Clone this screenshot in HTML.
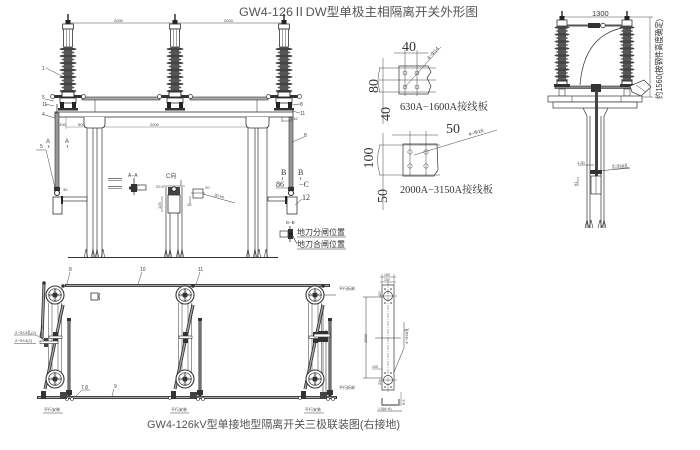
<!DOCTYPE html>
<html><head><meta charset="utf-8"><title>GW4-126</title>
<style>
html,body{margin:0;padding:0;background:#fff;width:700px;height:450px;overflow:hidden}
svg{display:block}
text{font-family:"Liberation Sans","Noto Sans CJK SC",sans-serif;fill:#333}
.s{font-family:"Liberation Serif","Noto Serif CJK SC",serif}
.t{font-size:4px;fill:#444}
</style></head><body>
<svg width="700" height="450" viewBox="0 0 700 450" xmlns="http://www.w3.org/2000/svg">
<defs>
<g id="ins">
<line x1="0" y1="0" x2="0" y2="7" stroke="#222" stroke-width="1.4"/>
<rect x="-2.5" y="6" width="5" height="4" fill="#222"/>
<rect x="-5.5" y="10" width="11" height="5" fill="#fff" stroke="#333" stroke-width="0.8"/>
<rect x="-4.5" y="15" width="9" height="18" fill="#fff" stroke="#333" stroke-width="0.8"/>
<line x1="-1.5" y1="15" x2="-1.5" y2="33" stroke="#666" stroke-width="0.6"/>
<line x1="1.5" y1="15" x2="1.5" y2="33" stroke="#666" stroke-width="0.6"/>
<rect x="-4" y="33" width="8" height="46" fill="#5a5a5a"/>
<ellipse cx="0" cy="35" rx="8.5" ry="1.5" fill="#444"/>
<ellipse cx="0" cy="38.5" rx="6.5" ry="1.4" fill="#555"/>
<ellipse cx="0" cy="42" rx="8.5" ry="1.5" fill="#444"/>
<ellipse cx="0" cy="45.5" rx="6.5" ry="1.4" fill="#555"/>
<ellipse cx="0" cy="49" rx="8.5" ry="1.5" fill="#444"/>
<ellipse cx="0" cy="52.5" rx="6.5" ry="1.4" fill="#555"/>
<ellipse cx="0" cy="56" rx="8.5" ry="1.5" fill="#444"/>
<ellipse cx="0" cy="59.5" rx="6.5" ry="1.4" fill="#555"/>
<ellipse cx="0" cy="63" rx="8.5" ry="1.5" fill="#444"/>
<ellipse cx="0" cy="66.5" rx="6.5" ry="1.4" fill="#555"/>
<ellipse cx="0" cy="70" rx="8.5" ry="1.5" fill="#444"/>
<ellipse cx="0" cy="73.5" rx="6.5" ry="1.4" fill="#555"/>
<ellipse cx="0" cy="77" rx="8.5" ry="1.5" fill="#444"/>
<rect x="-6" y="78" width="12" height="5" fill="#fff" stroke="#222" stroke-width="0.9"/>
</g>
<g id="ins2">
<line x1="0" y1="0" x2="0" y2="6" stroke="#222" stroke-width="1.4"/>
<rect x="-2.5" y="5" width="5" height="4" fill="#222"/>
<rect x="-5" y="9" width="10" height="6" fill="#fff" stroke="#333" stroke-width="0.8"/>
<rect x="-4" y="15" width="8" height="55" fill="#5a5a5a"/>
<ellipse cx="0" cy="16.5" rx="7.5" ry="1.4" fill="#444"/>
<ellipse cx="0" cy="20" rx="6" ry="1.3" fill="#555"/>
<ellipse cx="0" cy="23.5" rx="7.5" ry="1.4" fill="#444"/>
<ellipse cx="0" cy="27" rx="6" ry="1.3" fill="#555"/>
<ellipse cx="0" cy="30.5" rx="7.5" ry="1.4" fill="#444"/>
<ellipse cx="0" cy="34" rx="6" ry="1.3" fill="#555"/>
<ellipse cx="0" cy="37.5" rx="7.5" ry="1.4" fill="#444"/>
<ellipse cx="0" cy="41" rx="6" ry="1.3" fill="#555"/>
<ellipse cx="0" cy="44.5" rx="7.5" ry="1.4" fill="#444"/>
<ellipse cx="0" cy="48" rx="6" ry="1.3" fill="#555"/>
<ellipse cx="0" cy="51.5" rx="7.5" ry="1.4" fill="#444"/>
<ellipse cx="0" cy="55" rx="6" ry="1.3" fill="#555"/>
<ellipse cx="0" cy="58.5" rx="7.5" ry="1.4" fill="#444"/>
<ellipse cx="0" cy="62" rx="6" ry="1.3" fill="#555"/>
<ellipse cx="0" cy="65.5" rx="7.5" ry="1.4" fill="#444"/>
<ellipse cx="0" cy="69" rx="6" ry="1.3" fill="#555"/>
<rect x="-5" y="70" width="10" height="5" fill="#fff" stroke="#222" stroke-width="0.9"/>
</g>
<g id="base">
<rect x="-14" y="95" width="28" height="3" fill="#333"/>
<circle cx="-15.5" cy="96.5" r="2" fill="#fff" stroke="#333" stroke-width="0.7"/>
<circle cx="15.5" cy="96.5" r="2" fill="#fff" stroke="#333" stroke-width="0.7"/>
<rect x="-8" y="98" width="16" height="5" fill="#fff" stroke="#333" stroke-width="0.8"/>
<rect x="-8" y="102" width="4" height="7" fill="#222"/>
<rect x="4" y="102" width="4" height="7" fill="#222"/>
<rect x="-10" y="108" width="20" height="2.5" fill="#333"/>
</g>
<g id="wh">
<circle r="9" fill="#fff" stroke="#333" stroke-width="1.1"/>
<circle r="6.3" fill="none" stroke="#333" stroke-width="0.7"/>
<circle r="2.8" fill="#333"/>
<circle cx="0" cy="-4.6" r="1" fill="none" stroke="#333" stroke-width="0.6"/>
<circle cx="4.6" cy="0" r="1" fill="none" stroke="#333" stroke-width="0.6"/>
<circle cx="0" cy="4.6" r="1" fill="none" stroke="#333" stroke-width="0.6"/>
<circle cx="-4.6" cy="0" r="1" fill="none" stroke="#333" stroke-width="0.6"/>
</g>
<g id="unit">
<g stroke="#555" stroke-width="0.6">
<line x1="-6.5" y1="303" x2="-6.5" y2="373"/>
<line x1="-3" y1="303" x2="-3" y2="373"/>
<line x1="3" y1="303" x2="3" y2="373"/>
<line x1="6.5" y1="303" x2="6.5" y2="373"/>
</g>
<line x1="8" y1="305" x2="-10" y2="389" stroke="#333" stroke-width="3"/>
<line x1="8" y1="305" x2="-10" y2="389" stroke="#aaa" stroke-width="1.3"/>
<rect x="-2" y="332" width="5" height="11" fill="#333"/>
<rect x="-6" y="336" width="13" height="2.5" fill="#fff" stroke="#333" stroke-width="0.6"/>
<use href="#wh" x="0" y="295"/>
<use href="#wh" x="0" y="379"/>
<line x1="8" y1="305" x2="5" y2="318" stroke="#333" stroke-width="3"/>
<line x1="8" y1="305" x2="5" y2="318" stroke="#aaa" stroke-width="1.3"/>
<rect x="-14" y="391" width="5" height="8" fill="#333"/>
<rect x="5" y="392" width="7" height="7" fill="#444"/>
<circle cx="8" cy="286" r="1.8" fill="#333"/>
</g>
<path id="ft" d="M-1.6,257 L0,249 L1.6,257" fill="none" stroke="#333" stroke-width="0.6"/>
</defs>

<!-- ============ TITLE ============ -->
<text x="239" y="16" font-size="12" textLength="239" lengthAdjust="spacingAndGlyphs" style="fill:#555">GW4-126ⅡDW型单极主相隔离开关外形图</text>

<!-- ============ TOP FRONT VIEW ============ -->
<line x1="68" y1="23" x2="284" y2="23" stroke="#444" stroke-width="0.6"/>
<text x="114" y="22" class="t">2000</text>
<text x="224" y="22" class="t">2000</text>

<rect x="82" y="97" width="78" height="3" fill="#aaa" stroke="#333" stroke-width="0.6"/>
<rect x="190" y="97" width="78" height="3" fill="#aaa" stroke="#333" stroke-width="0.6"/>
<line x1="95" y1="100" x2="95" y2="112" stroke="#444" stroke-width="0.6"/>
<line x1="257" y1="100" x2="257" y2="112" stroke="#444" stroke-width="0.6"/>

<use href="#base" x="68" y="0"/>
<use href="#base" x="175" y="0"/>
<use href="#base" x="284" y="0"/>
<use href="#ins" x="68" y="14"/>
<use href="#ins" x="175" y="14"/>
<use href="#ins" x="284" y="14"/>

<rect x="55" y="112" width="238" height="5" fill="#fff" stroke="#333" stroke-width="0.8"/>
<line x1="66" y1="127" x2="258" y2="127" stroke="#555" stroke-width="0.4"/>
<line x1="66" y1="117" x2="66" y2="129" stroke="#555" stroke-width="0.4"/>
<text x="57" y="126" class="t">2100</text>
<text x="78" y="126" class="t">500</text>
<text x="150" y="126" class="t">2000</text>

<g fill="#fff" stroke="#333" stroke-width="0.8">
<path d="M84,117 V124 Q84,128 88,128 H101 Q105,128 105,124 V117"/>
<path d="M246,117 V124 Q246,128 250,128 H265 Q269,128 269,124 V117"/>
</g>
<g stroke="#333" stroke-width="0.7">
<line x1="87" y1="128" x2="87" y2="257"/>
<line x1="93" y1="128" x2="93" y2="257"/>
<line x1="97" y1="128" x2="97" y2="257"/>
<line x1="102" y1="128" x2="102" y2="257"/>
<line x1="248" y1="128" x2="248" y2="257"/>
<line x1="255" y1="128" x2="255" y2="257"/>
<line x1="258" y1="128" x2="258" y2="257"/>
<line x1="267" y1="128" x2="267" y2="257"/>
<line x1="166" y1="187" x2="166" y2="257"/>
<line x1="170" y1="213" x2="170" y2="257"/>
<line x1="178" y1="213" x2="178" y2="257"/>
<line x1="182" y1="187" x2="182" y2="257"/>
</g>
<line x1="68" y1="257.5" x2="278" y2="257.5" stroke="#333" stroke-width="0.9"/>
<use href="#ft" x="86"/><use href="#ft" x="93"/><use href="#ft" x="97"/><use href="#ft" x="103"/>
<use href="#ft" x="166"/><use href="#ft" x="170"/><use href="#ft" x="178"/><use href="#ft" x="182"/>
<use href="#ft" x="248"/><use href="#ft" x="255"/><use href="#ft" x="259"/><use href="#ft" x="266"/>

<line x1="57" y1="104" x2="57" y2="113" stroke="#333" stroke-width="0.8"/>
<rect x="55" y="113" width="4" height="74" fill="#999" stroke="#333" stroke-width="0.6"/>
<rect x="54" y="187" width="6" height="4" fill="#333"/>
<circle cx="57" cy="193" r="2.5" fill="#fff" stroke="#222" stroke-width="1"/>
<rect x="53" y="197" width="9" height="17" fill="#fff" stroke="#333" stroke-width="0.8"/>
<rect x="62" y="197" width="25" height="4" fill="#fff" stroke="#333" stroke-width="0.7"/>
<rect x="61" y="196" width="2" height="8" fill="#222"/>
<text x="63" y="191" class="t">30</text>

<rect x="289" y="117" width="4" height="70" fill="#999" stroke="#333" stroke-width="0.6"/>
<rect x="288" y="187" width="6" height="4" fill="#333"/>
<circle cx="291" cy="193" r="2.5" fill="#fff" stroke="#222" stroke-width="1"/>
<rect x="287" y="197" width="10" height="17" fill="#fff" stroke="#333" stroke-width="0.8"/>
<rect x="268" y="197" width="19" height="4" fill="#fff" stroke="#333" stroke-width="0.7"/>
<rect x="285" y="196" width="2" height="8" fill="#222"/>
<line x1="282" y1="117" x2="282" y2="122" stroke="#444" stroke-width="0.5"/>
<line x1="282" y1="121" x2="292" y2="121" stroke="#444" stroke-width="0.5"/>
<text x="290" y="120" class="t">1.42</text>

<g stroke="#444" stroke-width="0.5" fill="none">
<line x1="46" y1="68" x2="62" y2="76"/>
<line x1="45" y1="115" x2="55" y2="118"/>
<line x1="36" y1="150" x2="46" y2="150"/>
<line x1="46" y1="150" x2="55" y2="188"/>
<line x1="45" y1="99" x2="54" y2="101"/>
<line x1="45" y1="104" x2="54" y2="106"/>
<line x1="292" y1="142" x2="304" y2="137"/>
<line x1="295" y1="205" x2="302" y2="199"/>
<line x1="292" y1="105" x2="300" y2="104"/>
<line x1="292" y1="111" x2="300" y2="113"/>
</g>
<text x="42" y="70" class="t" style="font-size:5px">1</text>
<text x="42" y="116" class="t" style="font-size:5px">4</text>
<text x="40" y="148" class="t" style="font-size:5px">5</text>
<text x="42" y="99" class="t" style="font-size:5px">5</text>
<text x="42" y="106" class="t" style="font-size:5px">11</text>
<text x="300" y="106" class="t" style="font-size:5px">8</text>
<text x="300" y="115" class="t" style="font-size:5px">11</text>
<text x="304" y="137" class="t" style="font-size:5px">8</text>
<text x="46" y="143" class="t" style="font-size:6px">A</text>
<text x="65" y="143" class="t" style="font-size:6px">A</text>
<path d="M48,145 L49,148 M67,145 L68,148" stroke="#444" stroke-width="0.6"/>

<text x="281" y="175" class="s" font-size="8">B</text>
<text x="298" y="175" class="s" font-size="8">B</text>
<path d="M283,177 L282,180 M300,177 L301,180" stroke="#444" stroke-width="0.6"/>
<text x="276" y="187" class="s" font-size="8">86</text>
<line x1="276" y1="188" x2="290" y2="188" stroke="#444" stroke-width="0.5"/>
<text x="299" y="187" class="s" font-size="8">−C</text>
<text x="302" y="200" class="s" font-size="8">12</text>

<rect x="108" y="178" width="14" height="1" fill="#777"/>
<line x1="108" y1="180.5" x2="122" y2="180.5" stroke="#333" stroke-width="0.5"/>
<rect x="108" y="186" width="14" height="1" fill="#777"/>
<line x1="108" y1="188.5" x2="122" y2="188.5" stroke="#333" stroke-width="0.5"/>
<text x="128" y="177" class="t" style="font-size:5px">A−A</text>
<line x1="134" y1="178" x2="134" y2="195" stroke="#333" stroke-width="0.8"/>
<rect x="131" y="184" width="6" height="8" fill="#333"/>
<rect x="137" y="185" width="9" height="5" fill="#fff" stroke="#333" stroke-width="0.7"/>
<circle cx="130.5" cy="188" r="1.6" fill="#333"/>

<text x="166" y="178" class="t" style="font-size:6px">C向</text>
<line x1="164" y1="186" x2="185" y2="186" stroke="#333" stroke-width="0.6"/>
<line x1="181" y1="186" x2="181" y2="180" stroke="#333" stroke-width="0.6"/>
<text x="156" y="188" class="t">20.5</text>
<rect x="168" y="187" width="12" height="8" fill="#444"/>
<circle cx="174" cy="189" r="2.2" fill="#fff" stroke="#222" stroke-width="0.8"/>
<rect x="168" y="195" width="12" height="18" fill="#fff" stroke="#333" stroke-width="0.8"/>
<line x1="162" y1="196" x2="162" y2="212" stroke="#444" stroke-width="0.5"/>
<text x="0" y="0" class="t" transform="translate(161,209) rotate(-90)">125</text>
<rect x="193" y="189" width="10" height="9" fill="#fff" stroke="#333" stroke-width="0.7"/>
<line x1="191" y1="193" x2="205" y2="193" stroke="#333" stroke-width="0.5"/>
<line x1="190" y1="196" x2="190" y2="204" stroke="#333" stroke-width="0.5"/>
<line x1="203" y1="194" x2="235" y2="203" stroke="#333" stroke-width="0.5"/>
<text x="205" y="189" class="t">20</text>
<text x="0" y="0" class="t" transform="translate(214,196) rotate(16)">30 ##</text>
<text x="187" y="206" class="t">10</text>

<text x="286" y="224" class="t" style="font-size:4.5px">B−B</text>
<line x1="290" y1="226" x2="290" y2="242" stroke="#333" stroke-width="0.8"/>
<rect x="280" y="231" width="8" height="6" fill="#fff" stroke="#333" stroke-width="0.7"/>
<rect x="288" y="229" width="5" height="10" fill="#333"/>
<circle cx="291" cy="234" r="2" fill="#222"/>
<text x="297" y="235" font-size="8.2" textLength="48" lengthAdjust="spacingAndGlyphs">地刀分闸位置</text>
<line x1="297" y1="237" x2="346" y2="237" stroke="#333" stroke-width="0.6"/>
<text x="297" y="247" font-size="8.2" textLength="48" lengthAdjust="spacingAndGlyphs">地刀合闸位置</text>
<line x1="297" y1="249" x2="346" y2="249" stroke="#333" stroke-width="0.6"/>
<line x1="293" y1="236" x2="297" y2="244" stroke="#333" stroke-width="0.6"/>

<!-- ============ CONNECTION PLATES ============ -->
<g stroke="#444" stroke-width="0.5" fill="none">
<line x1="405" y1="50" x2="405" y2="96"/>
<line x1="417" y1="50" x2="417" y2="96"/>
<line x1="394" y1="53" x2="428" y2="53"/>
<line x1="383" y1="58" x2="383" y2="124"/>
<line x1="379" y1="68" x2="436" y2="68"/>
<line x1="379" y1="80" x2="436" y2="80"/>
<line x1="379" y1="92" x2="436" y2="92"/>
<path d="M399,66 H428 L431,72 L427,78 L431,86 L428,94 H399 Z" stroke="#333" stroke-width="0.7"/>
<circle cx="405" cy="73" r="2"/>
<circle cx="417" cy="73" r="2"/>
<circle cx="405" cy="87" r="2"/>
<circle cx="417" cy="87" r="2"/>
<line x1="405" y1="87" x2="441" y2="47"/>
<path d="M380,68 Q376,80 380,92"/>
<line x1="410" y1="131" x2="410" y2="176"/>
<line x1="426" y1="131" x2="426" y2="176"/>
<line x1="392" y1="135" x2="438" y2="135"/>
<line x1="383" y1="133" x2="383" y2="210"/>
<line x1="379" y1="145" x2="440" y2="145"/>
<line x1="379" y1="175" x2="440" y2="175"/>
<path d="M403,144 H437 L438,170 L434,176 H403 Z" stroke="#333" stroke-width="0.7"/>
<circle cx="410" cy="152" r="2.2"/>
<circle cx="426" cy="152" r="2.2"/>
<circle cx="410" cy="166" r="2.2"/>
<circle cx="426" cy="166" r="2.2"/>
<line x1="414" y1="155" x2="497" y2="130"/>
<path d="M380,145 Q375,160 380,175"/>
</g>
<text x="402" y="51" class="s" font-size="14">40</text>
<text x="0" y="0" class="s" font-size="14" text-anchor="middle" transform="translate(378,86) rotate(-90)">80</text>
<text x="0" y="0" class="s" font-size="14" text-anchor="middle" transform="translate(390,114) rotate(-90)">40</text>
<text x="0" y="0" class="t" style="font-size:5px" transform="translate(429,60) rotate(-48)">4−Φ14</text>
<text x="400" y="110" class="s" font-size="10" textLength="88" lengthAdjust="spacingAndGlyphs">630A−1600A接线板</text>

<text x="446" y="133" class="s" font-size="14">50</text>
<text x="0" y="0" class="s" font-size="14" text-anchor="middle" transform="translate(373,158) rotate(-90)">100</text>
<text x="0" y="0" class="s" font-size="14" text-anchor="middle" transform="translate(387,196) rotate(-90)">50</text>
<text x="0" y="0" class="t" style="font-size:5px" transform="translate(469,136) rotate(-16)">4−Φ16</text>
<text x="400" y="193" class="s" font-size="10" textLength="93" lengthAdjust="spacingAndGlyphs">2000A−3150A接线板</text>

<!-- ============ SIDE VIEW (top right) ============ -->
<line x1="562" y1="17" x2="627" y2="17" stroke="#444" stroke-width="0.5"/>
<text x="592" y="16" font-size="7.5">1300</text>
<line x1="627" y1="17" x2="653" y2="17" stroke="#444" stroke-width="0.5"/>
<line x1="640" y1="97" x2="653" y2="97" stroke="#444" stroke-width="0.5"/>
<line x1="650" y1="17" x2="650" y2="97" stroke="#444" stroke-width="0.5"/>
<text x="0" y="0" font-size="8.5" text-anchor="middle" transform="translate(662,59) rotate(-90)" textLength="80" lengthAdjust="spacingAndGlyphs">约1560(按钢件高度确定)</text>

<path d="M580,85 Q584,36 622,28" fill="none" stroke="#333" stroke-width="0.7"/>
<use href="#ins2" x="562" y="11"/>
<use href="#ins2" x="627" y="11"/>
<rect x="567" y="24.5" width="55" height="2" fill="#555"/>
<rect x="588" y="23" width="12" height="5" fill="#333"/>
<circle cx="603" cy="25.5" r="2.3" fill="#fff" stroke="#333" stroke-width="0.8"/>
<rect x="555" y="86" width="88" height="2.5" fill="#888" stroke="#333" stroke-width="0.6"/>
<rect x="554" y="84" width="16" height="3" fill="#333"/>
<rect x="620" y="84" width="16" height="3" fill="#333"/>
<rect x="591" y="84" width="10" height="8" fill="#333"/>
<path d="M630,86 L644,80 L651,87 L641,96 L632,92 Z" fill="#fff" stroke="#333" stroke-width="0.7"/>
<line x1="636" y1="85" x2="646" y2="92" stroke="#333" stroke-width="0.5"/>
<rect x="559" y="89" width="6" height="7" fill="#fff" stroke="#333" stroke-width="0.6"/>
<rect x="624" y="89" width="6" height="7" fill="#fff" stroke="#333" stroke-width="0.6"/>
<rect x="548" y="96" width="94" height="6" fill="#fff" stroke="#333" stroke-width="0.7"/>
<line x1="572" y1="96" x2="572" y2="102" stroke="#333" stroke-width="0.5"/>
<line x1="621" y1="96" x2="621" y2="102" stroke="#333" stroke-width="0.5"/>
<rect x="553" y="102" width="84" height="6" fill="#fff" stroke="#333" stroke-width="0.7"/>
<g stroke="#333" stroke-width="0.7" fill="none">
<path d="M583,108 L587,116 V228"/>
<path d="M608,108 L604,116 V228"/>
<line x1="590" y1="116" x2="590" y2="228"/>
<line x1="601" y1="116" x2="601" y2="228"/>
</g>
<rect x="595" y="90" width="3" height="86" fill="#444"/>
<line x1="578" y1="165" x2="594" y2="165" stroke="#333" stroke-width="0.5"/>
<text x="577" y="164" class="t">1.30</text>
<line x1="598" y1="171" x2="630" y2="168" stroke="#333" stroke-width="0.5"/>
<line x1="612" y1="168" x2="630" y2="168" stroke="#333" stroke-width="0.5"/>
<text x="612" y="167" class="t">4−Φ18孔</text>
<rect x="590" y="170" width="12" height="4" fill="#333"/>
<rect x="591" y="176" width="10" height="18" fill="#fff" stroke="#333" stroke-width="0.7"/>
<line x1="596" y1="176" x2="596" y2="194" stroke="#333" stroke-width="0.5"/>
<line x1="578" y1="177" x2="578" y2="186" stroke="#333" stroke-width="0.5"/>
<text x="0" y="0" class="t" transform="translate(577,186) rotate(-90)">61</text>
<g stroke="#333" stroke-width="0.6" fill="none">
<path d="M585,228 L587,220 L589,228"/>
<path d="M589,228 L591,220 L593,228"/>
<path d="M598,228 L600,220 L602,228"/>
<path d="M602,228 L604,220 L606,228"/>
</g>

<!-- ============ BOTTOM ASSEMBLY ============ -->
<line x1="65" y1="285.5" x2="330" y2="285.5" stroke="#333" stroke-width="3"/>
<line x1="66" y1="285.5" x2="329" y2="285.5" stroke="#aaa" stroke-width="1.2"/>
<line x1="37" y1="397.5" x2="337" y2="397.5" stroke="#333" stroke-width="3"/>
<line x1="38" y1="397.5" x2="336" y2="397.5" stroke="#aaa" stroke-width="1.2"/>
<g stroke="#333" stroke-width="3">
<line x1="69" y1="320" x2="69" y2="396"/>
<line x1="200" y1="320" x2="200" y2="396"/>
<line x1="330" y1="320" x2="330" y2="396"/>
</g>
<g stroke="#999" stroke-width="1.2">
<line x1="69" y1="321" x2="69" y2="395"/>
<line x1="200" y1="321" x2="200" y2="395"/>
<line x1="330" y1="321" x2="330" y2="395"/>
</g>
<g fill="#333">
<rect x="67" y="318" width="4" height="3"/>
<rect x="198" y="318" width="4" height="3"/>
<rect x="328" y="318" width="4" height="3"/>
<rect x="66" y="390" width="6" height="5"/>
<rect x="197" y="390" width="6" height="5"/>
<rect x="327" y="390" width="6" height="5"/>
</g>
<g fill="#fff" stroke="#333" stroke-width="0.6">
<circle cx="67" cy="399" r="1.5"/><circle cx="72" cy="399" r="1.5"/>
<circle cx="198" cy="399" r="1.5"/><circle cx="203" cy="399" r="1.5"/>
<circle cx="328" cy="399" r="1.5"/><circle cx="333" cy="399" r="1.5"/>
<circle cx="170" cy="398" r="1.5"/><circle cx="300" cy="398" r="1.5"/>
</g>
<line x1="323" y1="306" x2="323" y2="396" stroke="#333" stroke-width="0.6"/>
<line x1="326" y1="330" x2="326" y2="396" stroke="#333" stroke-width="0.6"/>

<!-- left unit extra rod -->
<line x1="44" y1="284" x2="42" y2="338" stroke="#333" stroke-width="3"/>
<line x1="44" y1="284" x2="42" y2="338" stroke="#aaa" stroke-width="1.3"/>
<circle cx="44" cy="283" r="1.8" fill="#333"/>

<use href="#unit" x="55" y="0"/>
<use href="#unit" x="185" y="0"/>
<use href="#unit" x="315" y="0"/>
<rect x="318" y="331" width="10" height="11" fill="#333"/>
<rect x="314" y="334" width="16" height="3" fill="#fff" stroke="#333" stroke-width="0.6"/>
<line x1="324" y1="295" x2="336" y2="295" stroke="#333" stroke-width="0.5"/>
<path d="M42,326 L40,336 L46,342" fill="none" stroke="#333" stroke-width="0.8"/>
<rect x="44" y="338" width="4" height="9" fill="#444"/>
<rect x="40" y="341" width="18" height="2.5" fill="#fff" stroke="#333" stroke-width="0.6"/>

<rect x="91" y="293" width="7" height="7" fill="#fff" stroke="#333" stroke-width="0.8"/>
<path d="M100,293 Q98,296.5 100,300" fill="none" stroke="#333" stroke-width="0.7"/>

<g stroke="#444" stroke-width="0.5" fill="none">
<line x1="70" y1="272" x2="67" y2="284"/>
<line x1="142" y1="272" x2="138" y2="284"/>
<line x1="200" y1="272" x2="196" y2="284"/>
<path d="M76,396 L82,390 H90"/>
<line x1="114" y1="389" x2="112" y2="396"/>
<line x1="43" y1="413" x2="63" y2="413"/>
<line x1="170" y1="413" x2="189" y2="413"/>
<line x1="304" y1="413" x2="324" y2="413"/>
<line x1="14" y1="343.5" x2="36" y2="343.5"/>
<line x1="14" y1="335" x2="36" y2="335"/>
<line x1="36" y1="335" x2="44" y2="340"/>
</g>
<text x="69" y="271" class="t" style="font-size:5px">8</text>
<text x="140" y="271" class="t" style="font-size:5px">10</text>
<text x="198" y="271" class="t" style="font-size:5px">11</text>
<text x="81" y="389" class="t" style="font-size:5px">7 8</text>
<text x="114" y="388" class="t" style="font-size:5px">9</text>
<text x="44" y="411" class="t">平行安装</text>
<text x="171" y="411" class="t">平行安装</text>
<text x="305" y="411" class="t">平行安装</text>
<text x="15" y="334" class="t">2−Φ13孔(2)</text>
<text x="15" y="342" class="t">2−Φ13(2)</text>
<text x="339" y="290" class="t">平行拆卸</text>
<text x="339" y="389" class="t">平行拆卸</text>

<g stroke="#333" stroke-width="0.7" fill="none">
<rect x="382" y="285" width="12" height="105"/>
<line x1="388" y1="281" x2="388" y2="393" stroke-dasharray="5 1 1 1" stroke-width="0.4"/>
<circle cx="388" cy="296" r="4.5"/>
<circle cx="388" cy="380" r="4.5"/>
<line x1="379" y1="296" x2="397" y2="296" stroke-width="0.4"/>
<line x1="379" y1="380" x2="397" y2="380" stroke-width="0.4"/>
<line x1="366" y1="297" x2="366" y2="378" stroke-width="0.5"/>
<line x1="363" y1="297" x2="382" y2="297" stroke-width="0.5"/>
<line x1="363" y1="378" x2="382" y2="378" stroke-width="0.5"/>
<line x1="375" y1="338" x2="401" y2="338" stroke-width="0.5"/>
<line x1="382" y1="274" x2="382" y2="285" stroke-width="0.4"/>
<line x1="394" y1="274" x2="394" y2="285" stroke-width="0.4"/>
<line x1="380" y1="277" x2="396" y2="277" stroke-width="0.4"/>
<line x1="380" y1="282" x2="396" y2="282" stroke-width="0.4"/>
<polyline points="394,372 404,348 404,322" stroke-width="0.5"/>
<line x1="372" y1="369" x2="382" y2="369" stroke-width="0.4"/>
<path d="M382,398 V405 H399 V399" stroke-width="0.9"/>
<line x1="401" y1="392" x2="401" y2="406" stroke-width="0.4"/>
<line x1="377" y1="411" x2="402" y2="411" stroke-width="0.5"/>
</g>
<circle cx="385" cy="289" r="0.8" fill="#333"/><circle cx="391" cy="289" r="0.8" fill="#333"/>
<circle cx="385" cy="303" r="0.8" fill="#333"/><circle cx="391" cy="303" r="0.8" fill="#333"/>
<circle cx="385" cy="373" r="0.8" fill="#333"/><circle cx="391" cy="373" r="0.8" fill="#333"/>
<circle cx="385" cy="387" r="0.8" fill="#333"/><circle cx="391" cy="387" r="0.8" fill="#333"/>
<text x="384" y="276" class="t" style="font-size:3.5px">150</text>
<text x="384" y="281" class="t" style="font-size:3.5px">100</text>
<text x="0" y="0" class="t" transform="translate(367,343) rotate(-90)">1200</text>
<text x="0" y="0" class="t" transform="translate(381,296) rotate(-90)">20</text>
<text x="0" y="0" class="t" transform="translate(381,385) rotate(-90)">20</text>
<text x="372" y="368" class="t" style="font-size:3.5px">100</text>
<text x="0" y="0" class="t" transform="translate(408,344) rotate(-90)">4−Φ18孔</text>
<text x="0" y="0" class="t" transform="translate(405,405) rotate(-90)">6.5</text>
<text x="378" y="410" class="t" style="font-size:3.5px">1.5(A−6)</text>

<text x="147" y="428" font-size="11" textLength="253" lengthAdjust="spacingAndGlyphs" style="fill:#555">GW4-126kV型单接地型隔离开关三极联装图(右接地)</text>
</svg>
</body></html>
